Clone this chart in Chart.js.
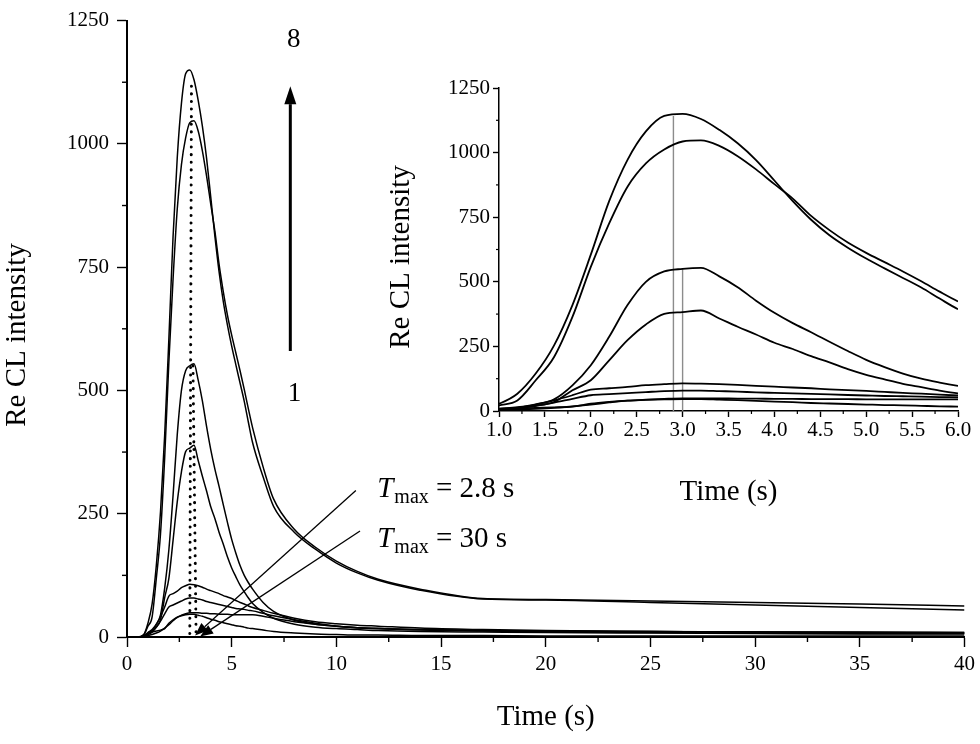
<!DOCTYPE html>
<html>
<head>
<meta charset="utf-8">
<script src="https://cdn.jsdelivr.net/npm/chart.js@4.4.1/dist/chart.umd.min.js"></script>
<style>
  html, body { margin: 0; padding: 0; background: #fff; }
  #wrap { position: relative; width: 980px; height: 744px; overflow: hidden; }
  #mainChart { position: absolute; left: 0; top: 0; }
  #insetChart { position: absolute; left: 380px; top: 70px; }
</style>
</head>
<body>
<div id="wrap">
  <canvas id="mainChart" width="980" height="744" style="width:980px;height:744px"></canvas>
  <canvas id="insetChart" width="595" height="450" style="width:595px;height:450px"></canvas>
</div>
<script>
const SERIF = '"Liberation Serif", "Times New Roman", serif';

// Sampling times (s), shared by every curve
const timeS = [0, 0.5, 0.8, 1.0, 1.2, 1.4, 1.6, 1.8, 2.0, 2.2, 2.4, 2.6, 2.8, 3.0, 3.2, 3.4, 3.6, 3.8,
  4.0, 4.2, 4.4, 4.6, 4.8, 5.0, 5.2, 5.4, 5.6, 5.8, 6.0, 6.5, 7, 8, 9, 10, 11, 12, 14, 17, 20, 25, 30, 35, 40];

// Re CL intensity, curves 1 (lowest) .. 8 (highest)
const curve1 = [0, 0, 1, 8, 10, 12, 14, 17, 28, 35, 40, 43, 45, 46, 46, 44, 42, 39,
  36, 34, 31, 29, 27, 25, 23, 22, 20, 18, 17, 14, 11, 8, 6, 5, 4, 4, 3, 3, 2, 2, 2, 2, 2];
const curve2 = [0, 0, 1, 3, 5, 8, 12, 18, 25, 33, 40, 44, 47, 49, 49, 49, 48, 48,
  47, 47, 46, 46, 46, 45, 45, 45, 45, 45, 45, 42, 38, 31, 26, 22, 19, 17, 15, 13, 12, 11, 10, 10, 9];
const curve3 = [0, 0, 1, 5, 10, 20, 32, 47, 61, 65, 69, 73, 77, 79, 79, 77, 75, 72,
  70, 68, 66, 64, 62, 60, 58, 57, 56, 54, 53, 48, 43, 35, 28, 22, 19, 17, 14, 12, 11, 9, 8, 7, 7];
const curve4 = [0, 0, 1, 5, 12, 25, 41, 61, 83, 88, 93, 100, 104, 107, 106, 104, 101, 97,
  94, 91, 88, 84, 81, 78, 74, 70, 67, 63, 60, 54, 48, 38, 31, 27, 24, 22, 18, 15, 13, 11, 10, 9, 8];
const curve5 = [0, 0, 2, 8, 12, 20, 35, 80, 119, 196, 274, 335, 376, 383, 389, 358, 326, 296,
  264, 240, 212, 188, 162, 140, 122, 105, 92, 79, 68, 50, 38, 26, 20, 17, 15, 13, 11, 10, 9, 8, 7, 6, 6];
const curve6 = [0, 0, 2, 9, 15, 26, 45, 99, 177, 287, 410, 500, 540, 550, 554, 521, 479, 427,
  380, 340, 305, 268, 232, 198, 170, 145, 125, 110, 97, 70, 52, 34, 26, 22, 19, 17, 15, 13, 12, 11, 10, 9, 9];
const curve7 = [0, 0, 4, 22, 41, 119, 209, 364, 558, 726, 868, 958, 1012, 1043, 1047, 1026, 986, 935,
  878, 822, 755, 700, 652, 612, 576, 540, 502, 462, 424, 345, 280, 218, 182, 154, 133, 117, 97, 78, 76, 73, 70, 67, 63];
const curve8 = [0, 0, 5, 28, 67, 145, 254, 410, 605, 812, 972, 1082, 1142, 1150, 1130, 1088, 1036, 971,
  892, 812, 740, 680, 632, 590, 552, 515, 478, 435, 394, 325, 265, 212, 178, 150, 130, 115, 95, 77, 75, 70, 65, 60, 55];
const curves = [curve1, curve2, curve3, curve4, curve5, curve6, curve7, curve8];

// Dotted peak-position guides in the main plot
const dotAX = [3.08, 3.0];
const dotAY = [1117, 0];
const dotBX = [3.15, 3.3];
const dotBY = [550, 0];

// Grey Tmax markers in the inset
const greyX = [2.9, 3.0];
const greyTop = [1142, 550];

// Tick settings
const mainXTicks = { min: 0, max: 40, step: 5 };
const mainYTicks = { min: 0, max: 1250, step: 250 };
const insetXTicks = { min: 1, max: 6, step: 0.5 };

function toPoints(xs, ys) {
  return xs.map((x, i) => ({ x: x, y: ys[i] }));
}

function curveSets(width) {
  return curves.map(c => ({
    data: toPoints(timeS, c),
    borderColor: '#000',
    borderWidth: width,
    pointRadius: 0,
    fill: false,
    cubicInterpolationMode: 'monotone'
  }));
}

// Chart.js draws the major ticks; this adds the short ones half way between
const minorTicks = {
  id: 'minorTicks',
  afterDraw(chart, args, opts) {
    const ctx = chart.ctx;
    ctx.save();
    ctx.strokeStyle = '#000';
    ctx.lineWidth = opts.width;
    const sx = chart.scales.x, sy = chart.scales.y;
    for (let v = sx.min + opts.xStep / 2; v < sx.max; v += opts.xStep) {
      const px = sx.getPixelForValue(v);
      ctx.beginPath();
      ctx.moveTo(px, sx.top);
      ctx.lineTo(px, sx.top + opts.len);
      ctx.stroke();
    }
    for (let v = sy.min + opts.yStep / 2; v < sy.max; v += opts.yStep) {
      const py = sy.getPixelForValue(v);
      ctx.beginPath();
      ctx.moveTo(sy.right - opts.len, py);
      ctx.lineTo(sy.right, py);
      ctx.stroke();
    }
    ctx.restore();
  }
};

// y axis title, drawn by hand so it can sit a little below the axis middle
const yTitle = {
  id: 'yTitle',
  afterDraw(chart, args, opts) {
    const ctx = chart.ctx;
    ctx.save();
    ctx.translate(opts.x, opts.y);
    ctx.rotate(-Math.PI / 2);
    ctx.fillStyle = '#000';
    ctx.font = '29px ' + SERIF;
    ctx.textAlign = 'center';
    ctx.textBaseline = 'middle';
    ctx.fillText('Re CL intensity', 0, 0);
    ctx.restore();
  }
};

function arrowLine(ctx, x1, y1, x2, y2, headLen, headHalf) {
  const a = Math.atan2(y2 - y1, x2 - x1);
  const bx = x2 - headLen * Math.cos(a), by = y2 - headLen * Math.sin(a);
  ctx.beginPath();
  ctx.moveTo(x1, y1);
  ctx.lineTo(bx, by);
  ctx.stroke();
  ctx.beginPath();
  ctx.moveTo(x2, y2);
  ctx.lineTo(bx + headHalf * Math.sin(a), by - headHalf * Math.cos(a));
  ctx.lineTo(bx - headHalf * Math.sin(a), by + headHalf * Math.cos(a));
  ctx.closePath();
  ctx.fill();
}

function tmaxText(ctx, x, y, rest) {
  ctx.textAlign = 'left';
  ctx.textBaseline = 'alphabetic';
  ctx.font = 'italic 29px ' + SERIF;
  ctx.fillText('T', x, y);
  x += ctx.measureText('T').width + 1;
  ctx.font = '20px ' + SERIF;
  ctx.fillText('max', x, y + 6);
  x += ctx.measureText('max').width;
  ctx.font = '29px ' + SERIF;
  ctx.fillText(rest, x, y);
}

// Arrow 1 -> 8 and the Tmax labels of the main plot
const mainNotes = {
  id: 'mainNotes',
  afterDatasetsDraw(chart) {
    const ctx = chart.ctx;
    const sx = chart.scales.x, sy = chart.scales.y;
    const X = v => sx.getPixelForValue(v), Y = v => sy.getPixelForValue(v);
    ctx.save();
    ctx.fillStyle = '#000';
    ctx.strokeStyle = '#000';

    ctx.lineWidth = 3;
    arrowLine(ctx, X(7.8), Y(580), X(7.8), Y(1117), 18, 6);

    ctx.font = '27px ' + SERIF;
    ctx.textAlign = 'center';
    ctx.textBaseline = 'middle';
    ctx.fillText('8', X(7.96), Y(1211));
    ctx.fillText('1', X(8.0), Y(492));

    ctx.lineWidth = 1.3;
    arrowLine(ctx, X(10.93), Y(297), X(3.25), Y(3), 13, 5);
    arrowLine(ctx, X(11.13), Y(215), X(3.49), Y(1), 13, 5);

    tmaxText(ctx, X(11.95), Y(283), ' = 2.8 s');
    tmaxText(ctx, X(11.95), Y(183), ' = 30 s');
    ctx.restore();
  }
};

function xAxis(t, fmt, tickLen, fontSize, pad, borderW, height, titlePad) {
  return {
    type: 'linear', min: t.min, max: t.max,
    ticks: { stepSize: t.step, autoSkip: false, maxRotation: 0, color: '#000',
      font: { family: SERIF, size: fontSize }, padding: pad, callback: fmt },
    grid: { drawOnChartArea: false, drawTicks: true, tickLength: tickLen, tickColor: '#000', tickWidth: 1.4 },
    border: { display: true, color: '#000', width: borderW },
    title: { display: true, text: 'Time (s)', color: '#000',
      font: { family: SERIF, size: 29 }, padding: { top: 0, bottom: titlePad } },
    afterFit: s => { s.height = height; }
  };
}

function yAxis(t, tickLen, fontSize, pad, borderW, width) {
  return {
    type: 'linear', min: t.min, max: t.max,
    ticks: { stepSize: t.step, autoSkip: false, color: '#000',
      font: { family: SERIF, size: fontSize }, padding: pad, callback: v => String(v) },
    grid: { drawOnChartArea: false, drawTicks: true, tickLength: tickLen, tickColor: '#000', tickWidth: 1.4 },
    border: { display: true, color: '#000', width: borderW },
    afterFit: s => { s.width = width; }
  };
}

const mainSets = curveSets(1.5).concat([
  { data: toPoints(dotAX, dotAY), borderColor: '#000', borderWidth: 3, borderDash: [0.1, 7.5],
    borderCapStyle: 'round', pointRadius: 0 },
  { data: toPoints(dotBX, dotBY), borderColor: '#000', borderWidth: 3, borderDash: [0.1, 7.5],
    borderCapStyle: 'round', pointRadius: 0 }
]);

new Chart(document.getElementById('mainChart'), {
  type: 'line',
  data: { datasets: mainSets },
  options: {
    responsive: false, animation: false, devicePixelRatio: 1,
    layout: { padding: { top: 12, right: 12, left: 0, bottom: 0 } },
    plugins: { legend: { display: false }, tooltip: { enabled: false },
      minorTicks: { xStep: 5, yStep: 250, len: 5, width: 1.4 },
      yTitle: { x: 17, y: 335 } },
    scales: {
      x: xAxis(mainXTicks, v => String(v), 10, 21, 5, 2, 107, 9),
      y: yAxis(mainYTicks, 10, 21, 8, 2, 127)
    }
  },
  plugins: [minorTicks, yTitle, mainNotes]
});

const insetSets = curveSets(1.8).concat(greyX.map((gx, i) => ({
  data: toPoints([gx, gx], [0, greyTop[i]]),
  borderColor: '#8c8c8c', borderWidth: 1.4, pointRadius: 0
})));

new Chart(document.getElementById('insetChart'), {
  type: 'line',
  data: { datasets: insetSets },
  options: {
    responsive: false, animation: false, devicePixelRatio: 1,
    layout: { padding: { top: 18, right: 17, left: 0, bottom: 0 } },
    plugins: { legend: { display: false }, tooltip: { enabled: false },
      minorTicks: { xStep: 0.5, yStep: 250, len: 3, width: 1.2 },
      yTitle: { x: 21, y: 187 } },
    scales: {
      x: xAxis(insetXTicks, v => v.toFixed(1), 6, 21, 1, 1.5, 109, 10),
      y: yAxis(mainYTicks, 6, 21, 3, 1.5, 119)
    }
  },
  plugins: [minorTicks, yTitle]
});
</script>
</body>
</html>
